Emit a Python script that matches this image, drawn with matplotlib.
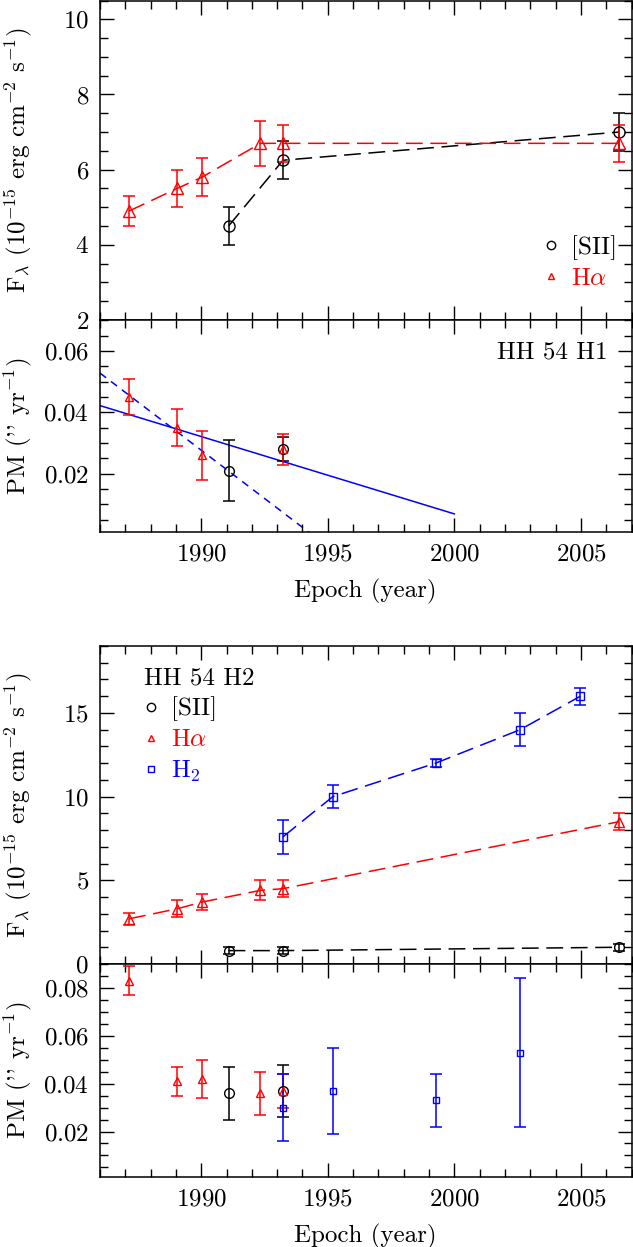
import numpy as np
import matplotlib
matplotlib.use("Agg")
import matplotlib.pyplot as plt
from matplotlib.lines import Line2D
from matplotlib.ticker import MultipleLocator

plt.rcParams["font.family"] = ["cmr10", "DejaVu Serif"]
plt.rcParams["mathtext.fontset"] = "cm"
plt.rcParams["axes.formatter.use_mathtext"] = True
plt.rcParams["axes.unicode_minus"] = False

# HH 54 H1 - flux
h1_sii_year = [1991.08, 1993.23, 2006.5]
h1_sii_flux = [4.5, 6.25, 7.0]
h1_sii_ferr = [0.5, 0.5, 0.5]
h1_ha_year = [1987.15, 1989.05, 1990.03, 1992.34, 1993.23, 2006.5]
h1_ha_flux = [4.9, 5.5, 5.8, 6.7, 6.7, 6.7]
h1_ha_ferr = [0.4, 0.5, 0.5, 0.6, 0.5, 0.5]

# HH 54 H1 - proper motion
h1_pm_sii_year = [1991.08, 1993.23]
h1_pm_sii = [0.021, 0.028]
h1_pm_sii_err = [0.010, 0.004]
h1_pm_ha_year = [1987.15, 1989.05, 1990.03, 1993.23]
h1_pm_ha = [0.045, 0.035, 0.026, 0.028]
h1_pm_ha_err = [0.006, 0.006, 0.008, 0.005]
# linear fits (end points)
fit_solid_year = [1986.0, 2000.0]
fit_solid_pm = [0.0422, 0.0069]
fit_dash_year = [1986.0, 1994.4]
fit_dash_pm = [0.0528, 0.0]

# HH 54 H2 - flux
h2_sii_year = [1991.08, 1993.23, 2006.5]
h2_sii_flux = [0.8, 0.8, 1.0]
h2_sii_ferr = [0.2, 0.2, 0.2]
h2_ha_year = [1987.15, 1989.05, 1990.03, 1992.34, 1993.23, 2006.5]
h2_ha_flux = [2.7, 3.3, 3.7, 4.4, 4.5, 8.5]
h2_ha_ferr = [0.35, 0.5, 0.5, 0.6, 0.5, 0.5]
h2_h2_year = [1993.23, 1995.2, 1999.26, 2002.6, 2004.98]
h2_h2_flux = [7.6, 10.0, 12.0, 14.0, 16.0]
h2_h2_ferr = [1.0, 0.7, 0.25, 1.0, 0.5]

# HH 54 H2 - proper motion
h2_pm_sii_year = [1991.08, 1993.23]
h2_pm_sii = [0.036, 0.037]
h2_pm_sii_err = [0.011, 0.011]
h2_pm_ha_year = [1987.15, 1989.05, 1990.03, 1992.34, 1993.23]
h2_pm_ha = [0.083, 0.041, 0.042, 0.036, 0.037]
h2_pm_ha_err = [0.006, 0.006, 0.008, 0.009, 0.007]
h2_pm_h2_year = [1993.23, 1995.2, 1999.26, 2002.6]
h2_pm_h2 = [0.030, 0.037, 0.033, 0.053]
h2_pm_h2_err = [0.014, 0.018, 0.011, 0.031]

FS = 18
fig = plt.figure(figsize=(6.33, 12.47), dpi=100)
W, H = 633.0, 1247.0


def make_axes(top, bottom):
    return fig.add_axes([100 / W, (H - bottom) / H, 531.5 / W, (bottom - top) / H])


ax1 = make_axes(0.5, 320)
ax2 = make_axes(320, 532)
ax3 = make_axes(646, 964)
ax4 = make_axes(964, 1177)


def style(ax, ymaj, ymin, show_x):
    ax.set_xlim(1986, 2007)
    ax.xaxis.set_major_locator(MultipleLocator(5))
    ax.xaxis.set_minor_locator(MultipleLocator(1))
    ax.yaxis.set_major_locator(MultipleLocator(ymaj))
    ax.yaxis.set_minor_locator(MultipleLocator(ymin))
    ax.tick_params(which="both", direction="in", top=True, right=True,
                   labelsize=FS, width=1.0)
    ax.tick_params(which="major", length=10, pad=8)
    ax.tick_params(which="minor", length=5.5)
    for s in ax.spines.values():
        s.set_linewidth(1.1)
    if show_x:
        ax.set_xlabel("Epoch (year)", fontsize=FS, labelpad=10)
    else:
        ax.tick_params(labelbottom=False)
    ax.yaxis.set_label_coords(-0.125, 0.5)


def errs(ax, x, y, e, color, marker, ms, ls=None, dashes=None):
    ax.errorbar(x, y, yerr=e, fmt="none", ecolor=color, elinewidth=1.1,
                capsize=4, capthick=1.1, zorder=2)
    if ls is not None:
        ax.plot(x, y, color=color, lw=1.1, dashes=dashes, zorder=2)
    ax.plot(x, y, ls="none", marker=marker, ms=ms, mfc="none", mec=color,
            mew=1.0, zorder=3)


flux_label = r"F$_\lambda$ (10$^{-15}$ erg cm$^{-2}$ s$^{-1}$)"
pm_label = r"PM ('' yr$^{-1}$)"

# panel 1
errs(ax1, h1_sii_year, h1_sii_flux, h1_sii_ferr, "black", "o", 8, "-", (11, 5))
errs(ax1, h1_ha_year, h1_ha_flux, h1_ha_ferr, "red", "^", 8, "-", (11, 5))
ax1.set_ylim(2, 10.5)
style(ax1, 2, 0.5, False)
ax1.set_ylabel(flux_label, fontsize=FS)
handles = [Line2D([], [], ls="none", marker="o", ms=6, mfc="none", mec="black", label="[SII]"),
           Line2D([], [], ls="none", marker="^", ms=5, mfc="none", mec="red", label=r"H$\alpha$")]
ax1.legend(handles=handles, loc="lower right", bbox_to_anchor=(1.015, 0.025), frameon=False,
           fontsize=FS, handlelength=0.6, handletextpad=0.5, labelspacing=0.3,
           labelcolor=["black", "red"])

# panel 2
ax2.plot(fit_solid_year, fit_solid_pm, color="blue", lw=1.1, zorder=1)
ax2.plot(fit_dash_year, fit_dash_pm, color="blue", lw=1.1, dashes=(5, 4), zorder=1)
errs(ax2, h1_pm_sii_year, h1_pm_sii, h1_pm_sii_err, "black", "o", 7)
errs(ax2, h1_pm_ha_year, h1_pm_ha, h1_pm_ha_err, "red", "^", 6)
ax2.set_ylim(0.001, 0.0701)
style(ax2, 0.02, 0.005, True)
ax2.set_ylabel(pm_label, fontsize=FS)
ax2.text(0.955, 0.845, "HH 54 H1", transform=ax2.transAxes, fontsize=FS,
         ha="right", va="center")

# panel 3
errs(ax3, h2_sii_year, h2_sii_flux, h2_sii_ferr, "black", "o", 7, "-", (11, 5))
errs(ax3, h2_ha_year, h2_ha_flux, h2_ha_ferr, "red", "^", 7, "-", (11, 5))
errs(ax3, h2_h2_year, h2_h2_flux, h2_h2_ferr, "blue", "s", 6, "-", (11, 5))
ax3.set_ylim(0, 19)
style(ax3, 5, 1, False)
ax3.set_ylabel(flux_label, fontsize=FS)
handles = [Line2D([], [], ls="none", marker="o", ms=6, mfc="none", mec="black", label="[SII]"),
           Line2D([], [], ls="none", marker="^", ms=5, mfc="none", mec="red", label=r"H$\alpha$"),
           Line2D([], [], ls="none", marker="s", ms=5, mfc="none", mec="blue", label=r"H$_2$")]
leg = ax3.legend(handles=handles, loc="upper left", bbox_to_anchor=(0.04, 1.005), frameon=False,
                 fontsize=FS, handlelength=0.6, handletextpad=0.5, labelspacing=0.3,
                 labelcolor=["black", "red", "blue"], title="HH 54 H2",
                 title_fontsize=FS, alignment="left")

# panel 4
errs(ax4, h2_pm_sii_year, h2_pm_sii, h2_pm_sii_err, "black", "o", 7)
errs(ax4, h2_pm_ha_year, h2_pm_ha, h2_pm_ha_err, "red", "^", 6)
errs(ax4, h2_pm_h2_year, h2_pm_h2, h2_pm_h2_err, "blue", "s", 5)
ax4.set_ylim(0.001, 0.09)
style(ax4, 0.02, 0.005, True)
ax4.set_ylabel(pm_label, fontsize=FS)

fig.savefig("out.png", dpi=100)
